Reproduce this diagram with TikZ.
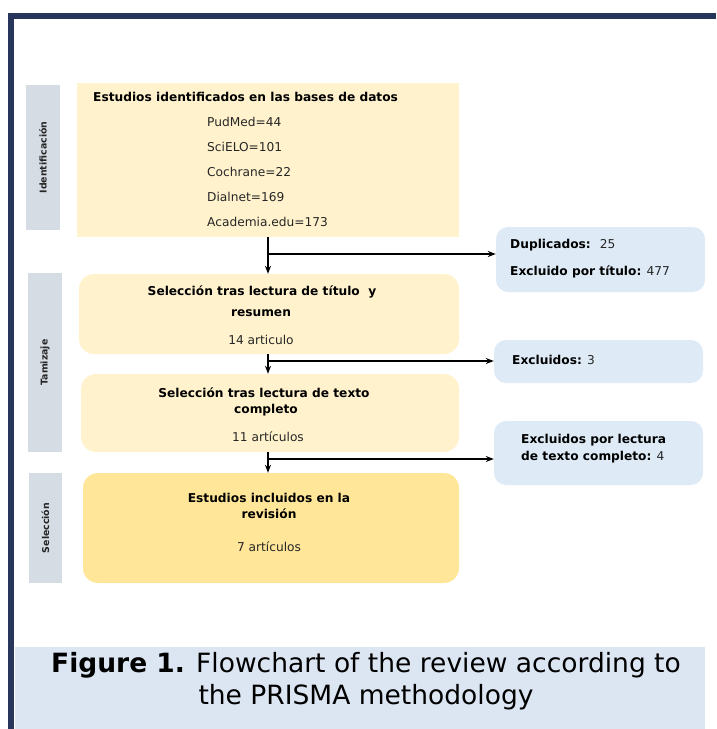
\documentclass[tikz,border=0pt]{standalone}
\usepackage{fontspec}
\setmainfont{DejaVu Sans}
\usetikzlibrary{arrows.meta}
\definecolor{Fr}{HTML}{27365A}
\definecolor{Ph}{HTML}{D6DCE4}
\definecolor{Yl}{HTML}{FFF2CC}
\definecolor{Yd}{HTML}{FFE699}
\definecolor{Bl}{HTML}{DEEBF7}
\definecolor{Cp}{HTML}{DCE6F2}
\tikzset{
  phase/.style={fill=Ph, inner sep=0pt, rotate=90, text=black!85, font=\fontsize{9.4}{11}\selectfont\bfseries},
  stage/.style={fill=Yl, inner sep=0pt, rounded corners=15pt},
  excl/.style={fill=Bl, inner sep=0pt, rounded corners=12pt},
  txt/.style={inner sep=0pt, text=black!85, font=\fontsize{12.2}{14}\selectfont},
  hd/.style={txt, text=black, font=\fontsize{12.2}{14}\selectfont\bfseries},
  link/.style={-{Stealth[length=8pt,width=6pt]}, line width=1.2pt},
}

\begin{document}
\begin{tikzpicture}[x=1pt, y=-1pt]
  \useasboundingbox (0,0) rectangle (716,729);
  \fill[Fr] (8,13) rectangle (716,19);
  \fill[Fr] (8,13) rectangle (14,729);
  \fill[Cp] (15,647) rectangle (705,729);
  % phases
  \node[phase, minimum width=145, minimum height=34] (pI) at (43,157.5) {Identificación};
  \node[phase, minimum width=179, minimum height=34] (pT) at (45,362.5) {Tamizaje};
  \node[phase, minimum width=110, minimum height=33] (pS) at (45.5,528) {Selección};
  % boxes
  \node[stage, sharp corners, minimum width=382, minimum height=154] (b1) at (268,160) {};
  \node[stage, minimum width=380, minimum height=80] (b2) at (269,314) {};
  \node[stage, minimum width=378, minimum height=78] (b3) at (270,413) {};
  \node[stage, fill=Yd, minimum width=376, minimum height=110] (b4) at (271,528) {};
  \node[excl, minimum width=209, minimum height=65] (r1) at (600.5,259.5) {};
  \node[excl, minimum width=209, minimum height=43] (r2) at (598.5,361.5) {};
  \node[excl, minimum width=209, minimum height=64] (r3) at (598.5,453) {};
  % texts
  \node[hd, anchor=west] (t1) at (93,97) {Estudios identificados en las bases de datos};
  \node[txt, anchor=west, align=left, font=\fontsize{12.2}{25}\selectfont] (t1b) at (207,172)
    {PudMed=44\\SciELO=101\\Cochrane=22\\Dialnet=169\\Academia.edu=173};
  \node[hd] (t2) at (262,292) {Selección tras lectura de título~ y};
  \node[hd] (t2b) at (261,313) {resumen};
  \node[txt] (t2c) at (261,340) {14 articulo};
  \node[hd] (t3) at (264,393) {Selección tras lectura de texto};
  \node[hd] (t3b) at (266,410) {completo};
  \node[txt] (t3c) at (268,437) {11 artículos};
  \node[hd] (t4) at (269,498) {Estudios incluidos en la};
  \node[hd] (t4b) at (269,514) {revisión};
  \node[txt] (t4c) at (269,547) {7 artículos};
  \node[txt, anchor=west] (e1) at (510,245) {\textbf{\color{black}Duplicados:}~ 25};
  \node[txt, anchor=west] (e1b) at (510,272) {\textbf{\color{black}Excluido por título:} 477};
  \node[txt, anchor=west] (e2) at (512,360) {\textbf{\color{black}Excluidos:} 3};
  \node[hd, anchor=west] (e3) at (521,440) {Excluidos por lectura};
  \node[txt, anchor=west] (e3b) at (521,457) {\textbf{\color{black}de texto completo:} 4};
  % connectors
  \coordinate (j1) at (268,254);
  \coordinate (j2) at (268,361);
  \coordinate (j3) at (268,459);
  \draw[link] (b1.south -| j1) -- (b2.north -| j1);
  \draw[link] (b2.south -| j2) -- (b3.north -| j2);
  \draw[link] (b3.south -| j3) -- (b4.north -| j3);
  \draw[link] (j1) -- (j1 -| r1.west);
  \draw[link] (j2) -- (j2 -| r2.west);
  \draw[link] (j3) -- (j3 -| r3.west);
  % caption
  \node[inner sep=0pt, font=\fontsize{26.5}{30}\selectfont] (c1) at (366,665) {\textbf{Figure 1.} Flowchart of the review according to};
  \node[inner sep=0pt, font=\fontsize{26.5}{30}\selectfont] (c2) at (366,697) {the PRISMA methodology};
\end{tikzpicture}
\end{document}
